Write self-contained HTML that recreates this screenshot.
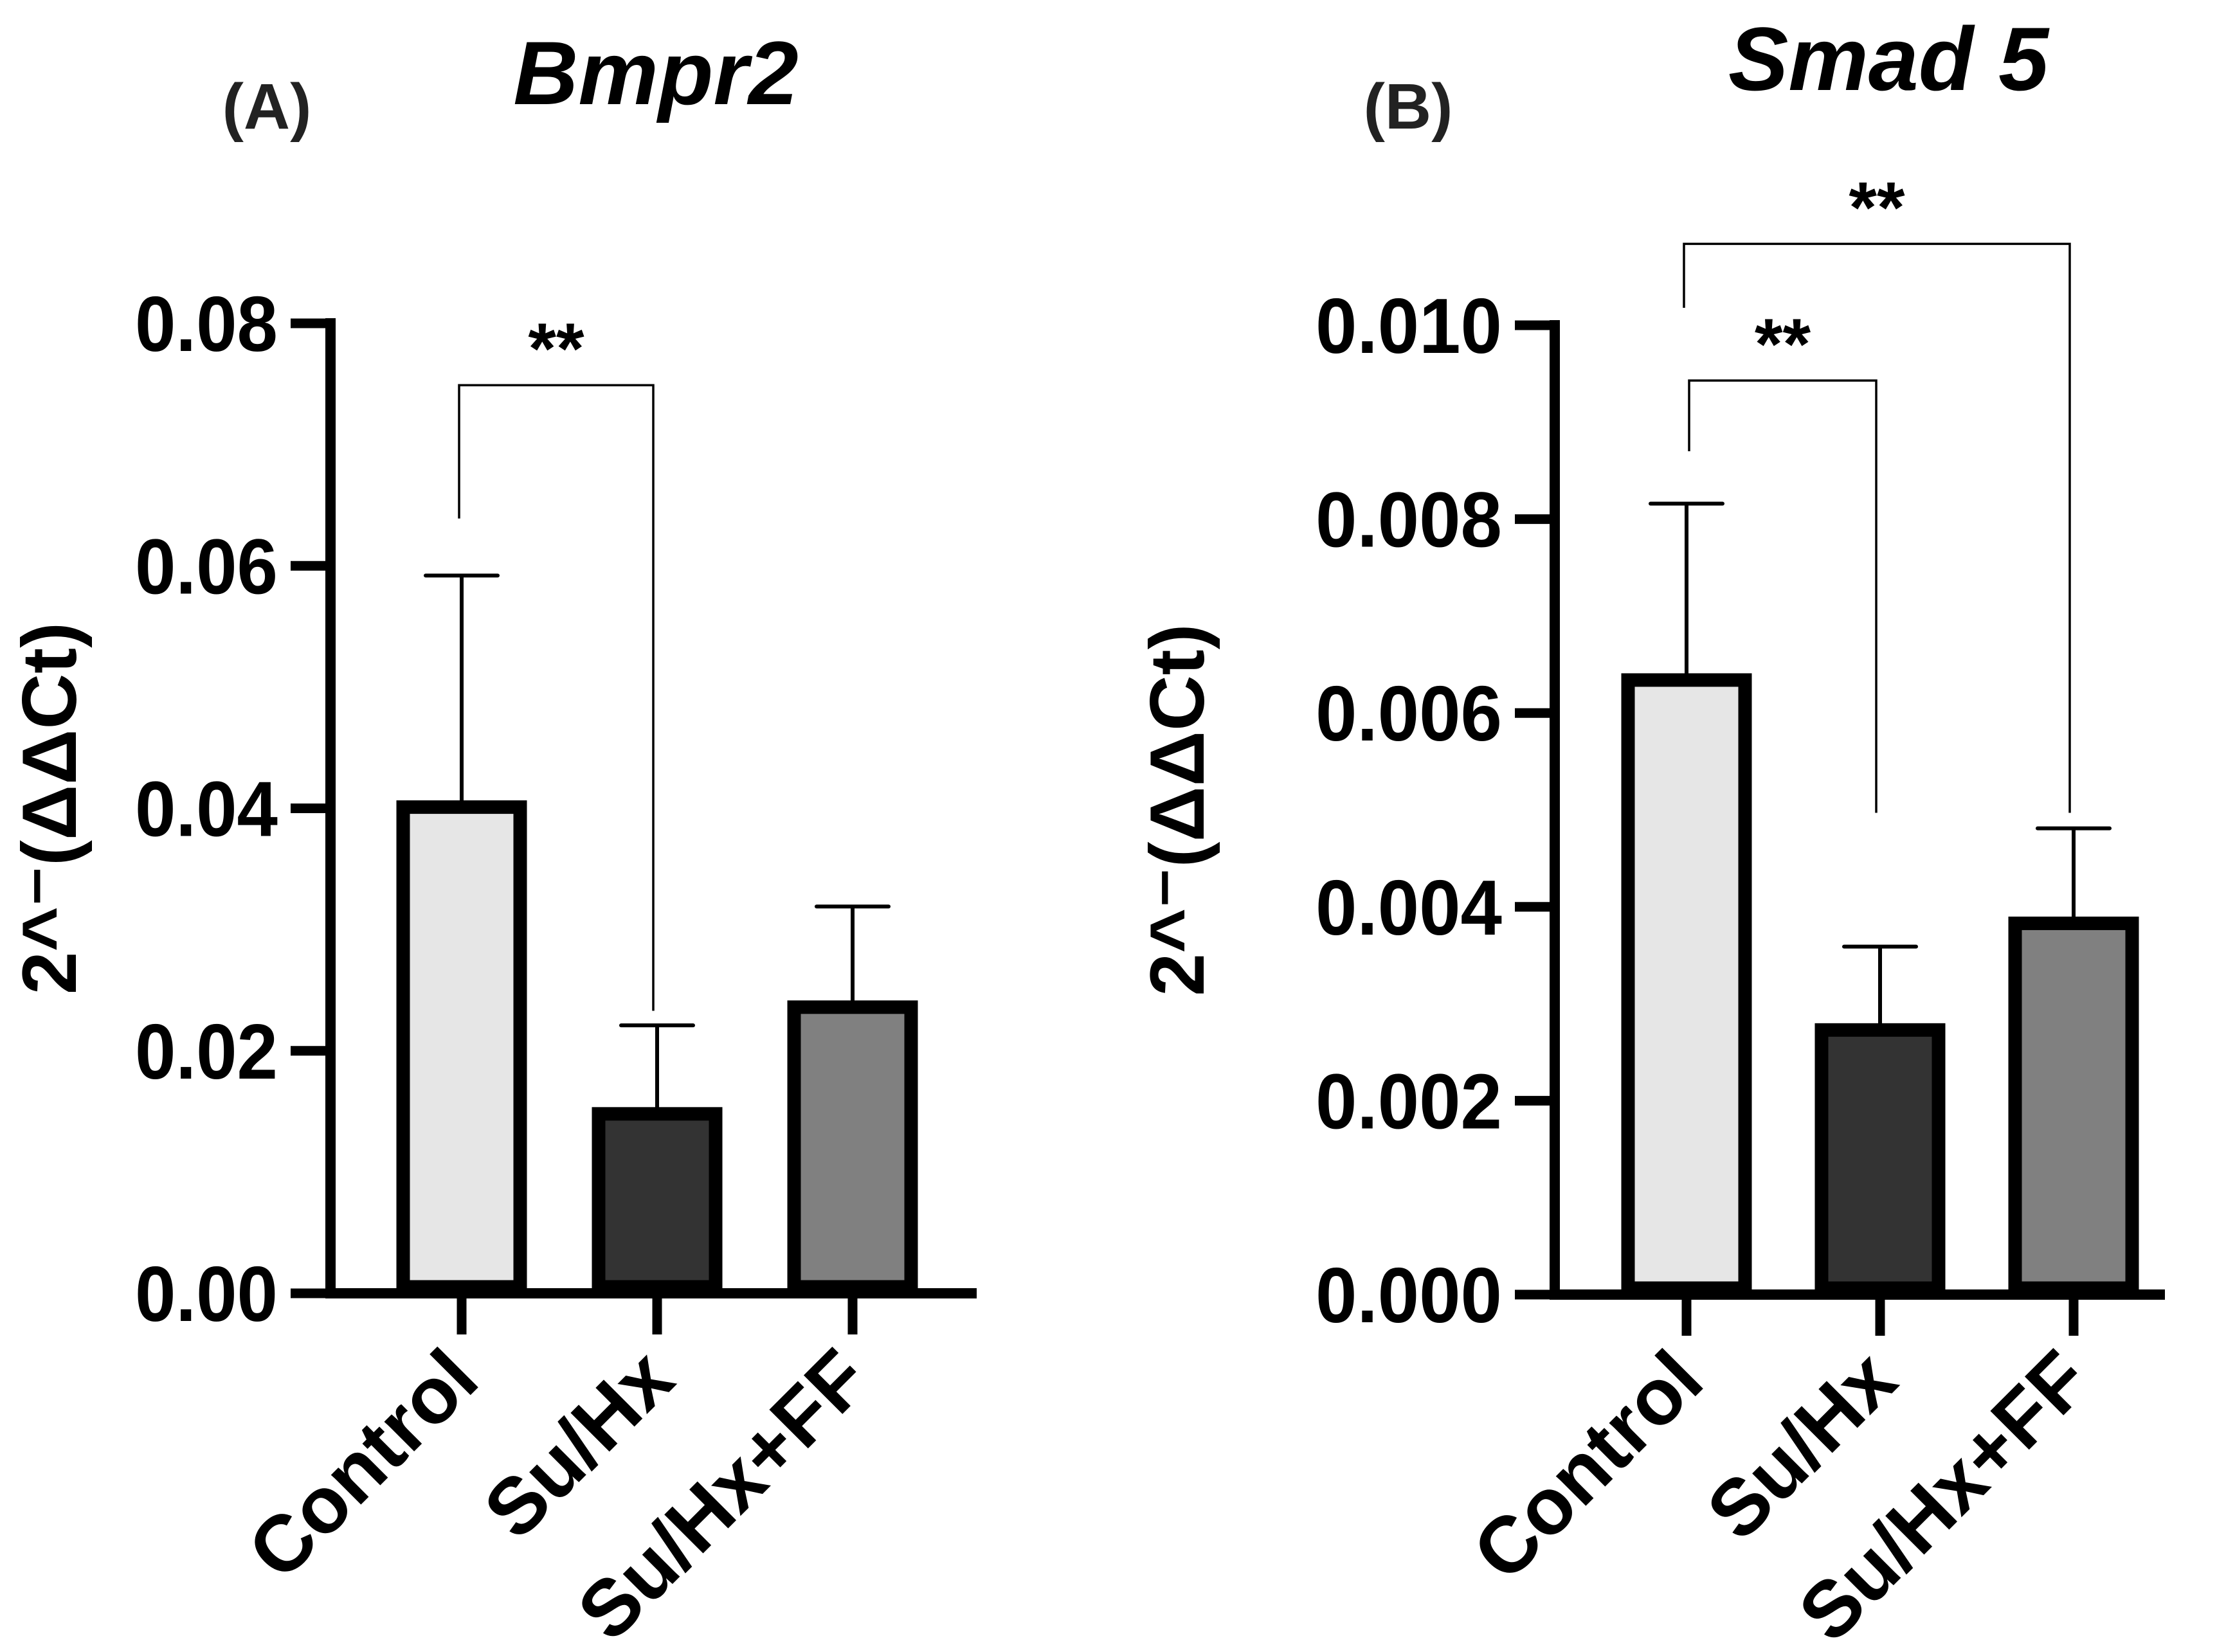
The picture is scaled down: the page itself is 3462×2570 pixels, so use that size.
<!DOCTYPE html>
<html><head><meta charset="utf-8"><style>
html,body{margin:0;padding:0;background:#fff;}
svg{display:block;font-family:"Liberation Sans",Arial,sans-serif;}
</style></head><body>
<svg id="chart" width="3462" height="2570" viewBox="0 0 3462 2570">
<g id="pA"></g>
<g id="pB"></g>
</svg>
<script>
const categories = ["Control","Su/Hx","Su/Hx+FF"];
const fills = ["#e6e6e6","#333333","#808080"];
const bmprMeans = [0.0401, 0.0148, 0.0236];
const bmprErrors = [0.0592, 0.0221, 0.0319];
const bmprTicks = ["0.00","0.02","0.04","0.06","0.08"];
const smadMeans = [0.00634, 0.00273, 0.00383];
const smadErrors = [0.00816, 0.00359, 0.00481];
const smadTicks = ["0.000","0.002","0.004","0.006","0.008","0.010"];
const bmprBrackets = [{a:0,b:1,top:0.0749,la:0.0639,lb:0.0233,lab:"**"}];
const smadBrackets = [{a:0,b:2,top:0.01084,la:0.01018,lb:0.00497,lab:"**"},{a:0,b:1,top:0.00943,la:0.0087,lb:0.00497,lab:"**",dx:8}];
const NS="http://www.w3.org/2000/svg";
function mk(p,t,at,txt){const e=document.createElementNS(NS,t);for(const k in at)e.setAttribute(k,at[k]);if(txt!==undefined)e.textContent=txt;p.appendChild(e);return e;}
function panel(g,cfg){
  const y=v=>cfg.y0-(v/cfg.max)*(cfg.y0-cfg.yTop);
  const x=i=>cfg.x0+i*cfg.step;
  let e;
  e=mk(g,"line",{x1:cfg.ax,y1:cfg.yTop-8,x2:cfg.ax,y2:cfg.y0+8,stroke:"#000","stroke-width":16});
  
  
  e=mk(g,"line",{x1:cfg.ax-8,y1:cfg.y0,x2:cfg.xEnd,y2:cfg.y0,stroke:"#000","stroke-width":16});
  
  
  cfg.ticks.forEach((t,i)=>{
    const v=cfg.max*i/(cfg.ticks.length-1);
    e=mk(g,"line",{x1:cfg.ax-62,y1:y(v),x2:cfg.ax,y2:y(v),stroke:"#000","stroke-width":15});
    
    
    e=mk(g,"text",{x:cfg.ax-82,y:y(v)+43,"text-anchor":"end","font-size":122,"font-weight":"bold",textLength:cfg.tlen,lengthAdjust:"spacingAndGlyphs"},t);
    
    
  });
  cfg.means.forEach((m,i)=>{
    const cx=x(i);
    e=mk(g,"line",{x1:cx,y1:y(m),x2:cx,y2:y(cfg.errs[i]),stroke:"#000","stroke-width":6});
    
    
    e=mk(g,"line",{x1:cx-56,y1:y(cfg.errs[i]),x2:cx+56,y2:y(cfg.errs[i]),stroke:"#000","stroke-width":6,"stroke-linecap":"round"});
    
    
    e=mk(g,"rect",{x:cx-91,y:y(m),width:182,height:cfg.y0-y(m)-10,fill:fills[i],stroke:"#000","stroke-width":21});
    
    
    e=mk(g,"line",{x1:cx,y1:cfg.y0,x2:cx,y2:cfg.y0+64,stroke:"#000","stroke-width":15});
    
    
    e=mk(g,"text",{x:0,y:0,"text-anchor":"end","font-size":124,"font-weight":"bold",transform:`translate(${cx+32},${cfg.y0+140}) rotate(-45)`},categories[i]);
    
    
  });
  cfg.br.forEach(b=>{
    const xa=x(b.a)-4+(b.dx||0), xb=x(b.b)-6;
    e=mk(g,"polyline",{points:`${xa},${y(b.la)} ${xa},${y(b.top)} ${xb},${y(b.top)} ${xb},${y(b.lb)}`,fill:"none",stroke:"#000","stroke-width":3.5});
    
    
    e=mk(g,"text",{x:(xa+xb)/2,y:y(b.top)-18,"text-anchor":"middle","font-size":112,"font-weight":"bold"},b.lab);
    
    
  });
  e=mk(g,"text",{x:0,y:0,"text-anchor":"middle","font-size":120,"font-weight":"bold",transform:`translate(${cfg.ytx},${(cfg.y0+cfg.yTop)/2}) rotate(-90)`},"2^⁻(ΔΔCt)");
  
  
  e=mk(g,"text",{x:cfg.titleX,y:cfg.titleY,"text-anchor":"middle","font-size":140,"font-weight":"bold","font-style":"italic"},cfg.title);
  
  
  e=mk(g,"text",{x:cfg.letterX,y:200,"text-anchor":"middle","font-size":100,"font-weight":"bold",fill:"#222"},cfg.letter);
  
  
}
panel(document.getElementById('pA'),{ax:514,y0:2012,yTop:503,max:0.08,x0:718,step:304,xEnd:1519,ticks:bmprTicks,means:bmprMeans,errs:bmprErrors,br:bmprBrackets,ytx:118,title:"Bmpr2",titleX:1020,titleY:162,letter:"(A)",letterX:415,tlen:222});
panel(document.getElementById('pB'),{ax:2418,y0:2014,yTop:506,max:0.01,x0:2623,step:301,xEnd:3367,ticks:smadTicks,means:smadMeans,errs:smadErrors,br:smadBrackets,ytx:1872,title:"Smad 5",titleX:2937,titleY:140,letter:"(B)",letterX:2190,tlen:290});
</script>
</body></html>
